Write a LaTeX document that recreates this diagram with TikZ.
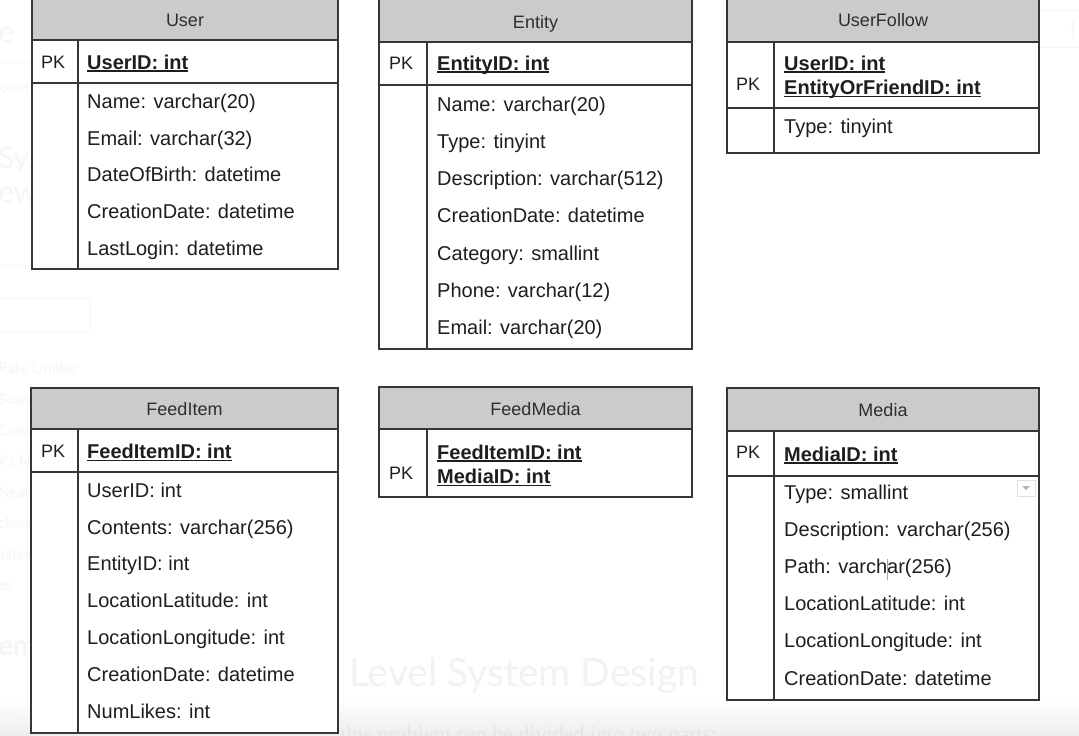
\documentclass[tikz,border=0pt]{standalone}
\usepackage{fontspec}
\setmainfont{Liberation Sans}
\newfontfamily\bgsans{Lato}
\newfontfamily\bgserif{Liberation Serif}
\usetikzlibrary{calc}

\definecolor{lncol}{HTML}{363636}
\definecolor{hdrcol}{HTML}{CBCBCB}
\definecolor{txtcol}{HTML}{1E1E1E}
\definecolor{hdrtxtcol}{HTML}{2E2E2E}
\definecolor{faint}{HTML}{F5F5F5}
\definecolor{faintline}{HTML}{F6F6F6}

\newcommand{\hdrfont}{\fontsize{18}{22}\selectfont}
\newcommand{\fldfont}{\fontsize{20}{24}\selectfont}
\newcommand{\ulkey}[1]{\setbox0=\hbox{#1}\rlap{\rule[-2.6pt]{\wd0}{1.3pt}}\box0}

% table frame: name, x0, x1, divider x, top, header bottom, key-row bottom, bottom
\newcommand{\ertable}[8]{%
  \fill[white] (#2,#5) rectangle (#3,#8);
  \fill[hdrcol] (#2,#5) rectangle (#3,#6);
  \draw[tblline] (#2,#6) -- (#3,#6);
  \draw[tblline] (#2,#7) -- (#3,#7);
  \draw[tblline] (#4,#6) -- (#4,#8);
  \draw[tblline] (#2,#5) rectangle (#3,#8);
  \coordinate (#1) at ({(#2+#3)/2},#5);
}

\tikzset{
  tblline/.style={draw=lncol, line width=1.6pt},
  hdrtxt/.style={font=\hdrfont, text=hdrtxtcol, anchor=base, inner sep=0pt},
  pktxt/.style={font=\hdrfont, text=txtcol, anchor=base west, inner sep=0pt},
  fld/.style={font=\fldfont, text=txtcol, anchor=base west, inner sep=0pt},
  keyfld/.style={fld, font=\fldfont\bfseries},
  bgtxt/.style={text=faint, anchor=base west, inner sep=0pt},
}

\begin{document}
\begin{tikzpicture}[x=1pt, y=-1pt]
\useasboundingbox (0,0) rectangle (1079,736);
\clip (0,0) rectangle (1079,736);
\fill[white] (0,0) rectangle (1079,736);

% page behind the diagram
\draw[faintline, line width=1pt] (0,62) -- (40,62);
\draw[faintline, line width=1pt] (0,265) -- (40,265);
\draw[faintline, line width=1pt, rounded corners=4pt] (-10,298) rectangle (90,332);
\draw[faintline, line width=1pt] (1040,10) -- (1079,10);
\draw[faintline, line width=1pt] (1040,47) -- (1079,47);
\node[bgtxt, font=\bgsans\fontsize{22}{26}\selectfont] (bg1) at (1070,36) {\{};
\node[bgtxt, font=\bgsans\fontsize{30}{34}\selectfont] (bg2) at (-2,42) {e};
\node[bgtxt, font=\bgsans\fontsize{15}{18}\selectfont] (bg3) at (0,92) {ome};
\node[bgtxt, font=\bgsans\fontsize{30}{34}\selectfont] (bg4) at (-2,168) {Sys};
\node[bgtxt, font=\bgsans\fontsize{30}{34}\selectfont] (bg5) at (-2,202) {ew};
\node[bgtxt, font=\bgsans\fontsize{15}{18}\selectfont] (bg6) at (-2,373) {Rate Limiter};
\node[bgtxt, font=\bgsans\fontsize{15}{18}\selectfont] (bg7) at (-2,404) {Searc};
\node[bgtxt, font=\bgsans\fontsize{15}{18}\selectfont] (bg8) at (-2,435) {Crawl};
\node[bgtxt, font=\bgsans\fontsize{15}{18}\selectfont] (bg9) at (-2,466) {k's N};
\node[bgtxt, font=\bgsans\fontsize{15}{18}\selectfont] (bg10) at (-2,497) {Nearb};
\node[bgtxt, font=\bgsans\fontsize{15}{18}\selectfont] (bg11) at (-2,528) {ckend};
\node[bgtxt, font=\bgsans\fontsize{15}{18}\selectfont] (bg12) at (-2,559) {aster};
\node[bgtxt, font=\bgsans\fontsize{15}{18}\selectfont] (bg13) at (-2,590) {es};
\node[bgtxt, font=\bgsans\bfseries\fontsize{28}{32}\selectfont] (bg14) at (-2,655) {em};
\node[bgtxt, text=black!5, font=\bgsans\fontsize{39}{44}\selectfont] (bg15) at (349,686) {Level System Design};
\shade[top color=white, bottom color=black!7] (0,700) rectangle (1079,736);
\node[bgtxt, font=\bgsans\fontsize{15}{18}\selectfont] (bg16) at (-2,720) {sics};
\node[bgtxt, text=black!10, font=\bgserif\fontsize{22}{26}\selectfont] (bg17) at (340,741) {this problem can be divided into two parts:};

% ---------- User ----------
\ertable{user}{32}{338}{78}{-2}{40}{83}{269}
\node[hdrtxt] (user-title) at (185,26) {User};
\node[pktxt] (user-pk) at (41,68) {PK};
\node[keyfld] (user-key) at (87,69) {\ulkey{UserID: int}};
\foreach \t [count=\i from 0] in {Name: varchar(20),Email: varchar(32),DateOfBirth: datetime,CreationDate: datetime,LastLogin: datetime}
  \node[fld] (user-f\i) at (87,{108.5+36.7*\i}) {\t};

% ---------- Entity ----------
\ertable{entity}{379}{692}{427}{-2}{42}{85}{349}
\node[hdrtxt] (entity-title) at (535.5,28) {Entity};
\node[pktxt] (entity-pk) at (389,69) {PK};
\node[keyfld] (entity-key) at (437,70) {\ulkey{EntityID: int}};
\foreach \t [count=\i from 0] in {Name: varchar(20),Type: tinyint,Description: varchar(512),CreationDate: datetime,Category: smallint,Phone: varchar(12),Email: varchar(20)}
  \node[fld] (entity-f\i) at (437,{111+37.33*\i}) {\t};

% ---------- UserFollow ----------
\ertable{follow}{727}{1039}{774}{-2}{42}{108}{153}
\node[hdrtxt] (follow-title) at (883,27) {UserFollow};
\node[pktxt] (follow-pk) at (736,90.7) {PK};
\node[keyfld] (follow-key1) at (784,70) {\ulkey{UserID: int}};
\node[keyfld] (follow-key2) at (784,94.3) {\ulkey{EntityOrFriendID: int}};
\node[fld] (follow-f0) at (784,133.3) {Type: tinyint};

% ---------- FeedItem ----------
\ertable{feeditem}{31}{338}{78}{388}{429}{472}{733}
\node[hdrtxt] (feeditem-title) at (184.5,415) {FeedItem};
\node[pktxt] (feeditem-pk) at (41,457) {PK};
\node[keyfld] (feeditem-key) at (87,458.3) {\ulkey{FeedItemID: int}};
\foreach \t [count=\i from 0] in {UserID: int,Contents: varchar(256),EntityID: int,LocationLatitude: int,LocationLongitude: int,CreationDate: datetime,NumLikes: int}
  \node[fld] (feeditem-f\i) at (87,{497.3+36.83*\i}) {\t};

% ---------- FeedMedia ----------
\ertable{feedmedia}{379}{692}{427}{387}{429}{497}{497}
\node[hdrtxt] (feedmedia-title) at (535.5,415) {FeedMedia};
\node[pktxt] (feedmedia-pk) at (389,479) {PK};
\node[keyfld] (feedmedia-key1) at (437,459) {\ulkey{FeedItemID: int}};
\node[keyfld] (feedmedia-key2) at (437,483.3) {\ulkey{MediaID: int}};

% ---------- Media ----------
\ertable{media}{727}{1039}{774}{388}{431}{476}{700}
\node[hdrtxt] (media-title) at (883,416.7) {Media};
\node[pktxt] (media-pk) at (736,458.3) {PK};
\node[keyfld] (media-key) at (784,461) {\ulkey{MediaID: int}};
\foreach \t [count=\i from 0] in {Type: smallint,Description: varchar(256),Path: varchar(256),LocationLatitude: int,LocationLongitude: int,CreationDate: datetime}
  \node[fld] (media-f\i) at (784,{499.3+37.14*\i}) {\t};

% small drop-down handle and text caret inside Media
\draw[black!12, line width=0.8pt, fill=white] (1017,480) rectangle (1035,496);
\fill[black!30] (1022,486) -- (1030,486) -- (1026,490) -- cycle;
\draw[black!35, line width=1pt] (887,559) -- (887,580);
\end{tikzpicture}
\end{document}
